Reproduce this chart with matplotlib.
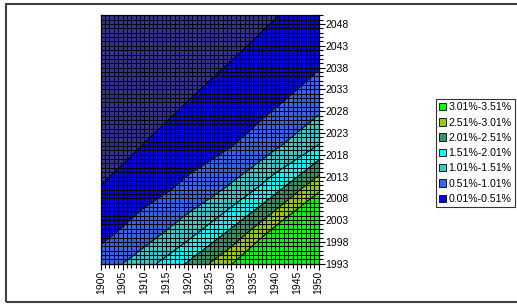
import matplotlib
matplotlib.use("Agg")
import matplotlib.pyplot as plt
import numpy as np
from matplotlib.patches import Patch, Rectangle
from matplotlib.ticker import MultipleLocator, FixedLocator

plt.rcParams['font.family'] = ['Liberation Sans', 'DejaVu Sans']

# coarse grid of values (% per year)
xs = [1900, 1910, 1920, 1930, 1940, 1950]
ys = [1993, 2000, 2010, 2020, 2030, 2040, 2050]
z_1900 = [0.72, 0.38, 0.04, -0.29, -0.63, -0.97, -1.31]
z_1910 = [1.30, 0.77, 0.33, 0.03, -0.28, -0.58, -0.88]
z_1920 = [2.06, 1.34, 0.62, 0.29, 0.02, -0.26, -0.53]
z_1930 = [3.00, 2.13, 1.11, 0.50, 0.25, 0.00, -0.25]
z_1940 = [3.45, 3.22, 1.86, 0.93, 0.45, 0.22, -0.01]
z_1950 = [3.48, 3.45, 2.98, 1.54, 0.80, 0.41, 0.20]

levels = [-2.0, 0.01, 0.51, 1.01, 1.51, 2.01, 2.51, 3.01, 3.51]
band_colors = ['#333399', '#0000ff', '#3366ff', '#33cccc', '#00ffff',
               '#339966', '#99cc00', '#00ff00']
labels = ['0.01%-0.51%', '0.51%-1.01%', '1.01%-1.51%', '1.51%-2.01%',
          '2.01%-2.51%', '2.51%-3.01%', '3.01%-3.51%']

Z = np.array([z_1900, z_1910, z_1920, z_1930, z_1940, z_1950]).T

fig = plt.figure(figsize=(5.17, 3.05), dpi=100)
ax = fig.add_axes([0.1948, 0.1354, 0.4216, 0.8144])

ax.contourf(xs, ys, Z, levels=levels, colors=band_colors)
ax.contour(xs, ys, Z, levels=levels[1:-1], colors='black', linewidths=0.8)

ax.set_xlim(1900, 1950)
ax.set_ylim(1993, 2050)

ax.xaxis.set_major_locator(MultipleLocator(5))
ax.xaxis.set_minor_locator(MultipleLocator(1))
ax.yaxis.set_major_locator(FixedLocator(range(1993, 2050, 5)))
ax.yaxis.set_minor_locator(MultipleLocator(1))
ax.yaxis.tick_right()
ax.tick_params(which='both', direction='out', color='black', width=0.8)
ax.tick_params(which='major', length=4, labelsize=7.5, pad=1)
ax.tick_params(which='minor', length=3)
ax.tick_params(axis='x', labelrotation=90)

ax.set_axisbelow(False)
ax.grid(which='both', color='black', linewidth=0.75)
for s in ax.spines.values():
    s.set_color('black')
    s.set_linewidth(0.9)

handles = [Patch(facecolor=c, edgecolor='black', linewidth=0.6) for c in band_colors[1:]]
leg = fig.legend(handles[::-1], labels[::-1], loc='upper left',
                 bbox_to_anchor=(0.843, 0.675), fontsize=7.6,
                 frameon=True, fancybox=False, borderpad=0.3,
                 handlelength=0.7, handleheight=0.7, handletextpad=0.2,
                 labelspacing=0.5, borderaxespad=0)
leg.get_frame().set_edgecolor('black')
leg.get_frame().set_linewidth(0.8)

# outer chart frame
fig.patches.append(Rectangle((5.5 / 517, 3.0 / 305), 1.2, 1 - 7.0 / 305,
                             transform=fig.transFigure, fill=False,
                             edgecolor='#404040', linewidth=1.5))

fig.savefig('out.png', dpi=100)
